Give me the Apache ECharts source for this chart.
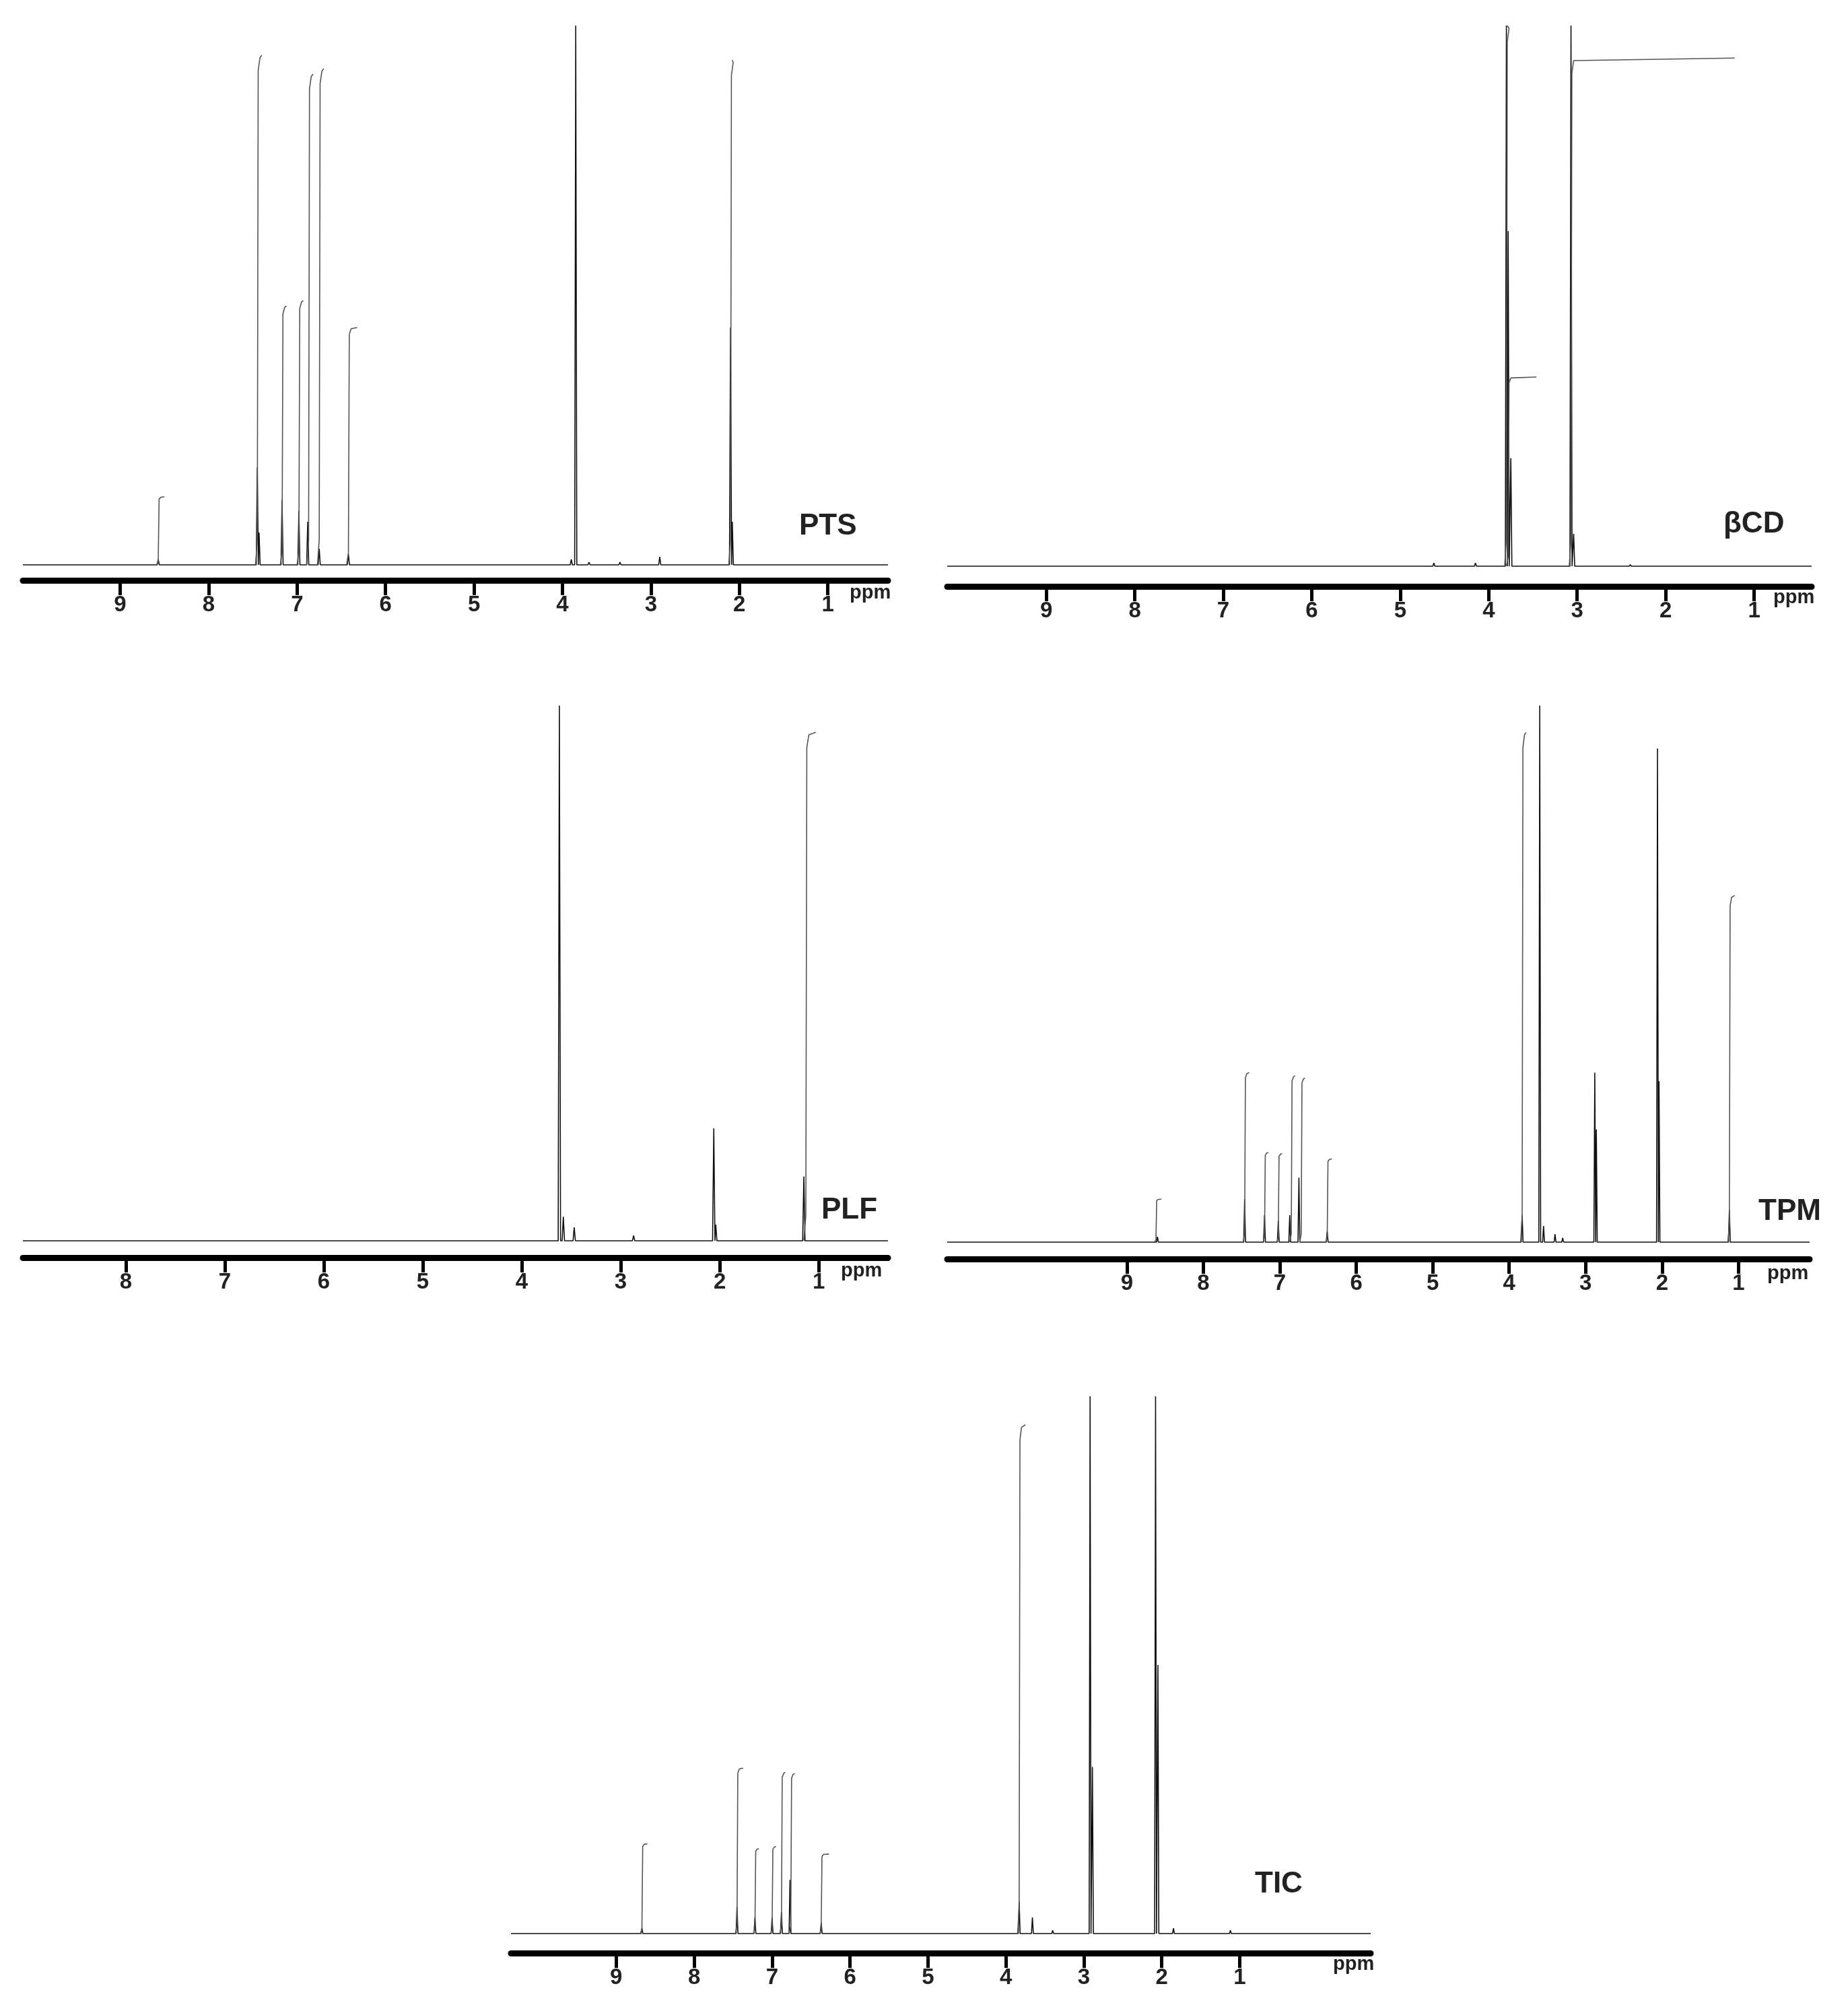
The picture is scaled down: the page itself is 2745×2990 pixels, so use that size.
<!DOCTYPE html>
<html><head><meta charset="utf-8">
<script src="https://cdn.jsdelivr.net/npm/echarts@6/dist/echarts.min.js"></script>
<style>html,body{margin:0;background:#fff}#c{width:2745px;height:2990px}</style>
</head><body><div id="c"></div>
<script>
// sample names
let names = ['PTS', 'βCD', 'PLF', 'TPM', 'TIC'];
// tick labels per panel (ppm)
let ticks = [[1,2,3,4,5,6,7,8,9],[1,2,3,4,5,6,7,8,9],[1,2,3,4,5,6,7,8],[1,2,3,4,5,6,7,8,9],[1,2,3,4,5,6,7,8,9]];

// black peaks: [ppm, height %]
let pts_peaks = [[8.57,1],[7.45,18],[7.43,6],[7.17,12],[6.98,10],[6.88,8],[6.75,3],[6.42,2],[3.9,1],[3.85,100],[3.7,0.5],[3.35,0.5],[2.9,1.5],[2.1,44],[2.08,8]];
let bcd_peaks = [[4.62,0.6],[4.15,0.6],[3.8,100],[3.78,62],[3.75,20],[3.07,100],[3.04,6],[2.4,0.3]];
let plf_peaks = [[3.62,100],[3.58,4.5],[3.47,2.5],[2.87,1],[2.06,21],[2.04,3],[1.15,12]];
let tpm_peaks = [[8.6,1],[7.46,8],[7.2,5],[7.02,4],[6.87,5],[6.75,12],[6.38,2],[3.83,5],[3.6,100],[3.55,3],[3.4,1.5],[3.3,0.8],[2.88,31.6],[2.86,21],[2.06,92],[2.04,30],[1.12,6]];
let tic_peaks = [[8.67,1],[7.45,5],[7.22,3],[7.0,3],[6.88,4],[6.77,10],[6.37,2],[3.83,6],[3.66,3],[3.4,0.6],[2.92,100],[2.89,31],[2.08,100],[2.05,50],[1.85,1],[1.12,0.6]];

// integral curves: [start ppm, end ppm, height %]
let pts_int = [[8.57,8.5,12.6],[7.45,7.4,94.5],[7.17,7.12,48],[6.98,6.93,49],[6.87,6.82,91],[6.75,6.7,92],[6.42,6.32,44],[2.1,2.08,93.6]];
let bcd_int = [[3.78,3.46,35],[3.07,1.22,94],[3.8,3.79,100]];
let plf_int = [[1.13,1.03,95]];
let tpm_int = [[8.62,8.55,8],[7.46,7.4,31.6],[7.2,7.15,16.7],[7.02,6.97,16.5],[6.85,6.8,31],[6.72,6.67,30.6],[6.38,6.32,15.5],[3.83,3.78,95],[1.12,1.05,64.6]];
let tic_int = [[8.67,8.6,16.7],[7.45,7.37,30.8],[7.22,7.17,15.8],[7.0,6.95,16.2],[6.88,6.83,30],[6.76,6.71,29.8],[6.37,6.27,14.8],[3.83,3.75,94.7]];

let peaks = [pts_peaks, bcd_peaks, plf_peaks, tpm_peaks, tic_peaks];
let ints = [pts_int, bcd_int, plf_int, tpm_int, tic_int];

// layout: T top, B axis, Y0 baseline, L, R, ppm range, label pos, ppm label pos
let panels = [
  {T:38, B:862, Y0:839, L:34, R:1319, xmin:0.32, xmax:10.1, lab:[1187,760], ppm:[1262,866]},
  {T:38, B:871, Y0:841, L:1407, R:2691, xmin:0.35, xmax:10.12, lab:[2560,757], ppm:[2634,873]},
  {T:1048, B:1868, Y0:1843, L:34, R:1319, xmin:0.3, xmax:9.04, lab:[1220,1776], ppm:[1249,1873]},
  {T:1048, B:1870, Y0:1845, L:1407, R:2688, xmin:0.07, xmax:11.35, lab:[2612,1778], ppm:[2625,1877]},
  {T:2074, B:2901, Y0:2872, L:759, R:2036, xmin:-0.68, xmax:10.35, lab:[1864,2777], ppm:[1980,2903]}
];

function specData(list, p) {
  let pts = [[p.xmax, 0]];
  let s = list.slice().sort(function(a,b){return b[0]-a[0];});
  for (let i = 0; i < s.length; i++) {
    pts.push([s[i][0]+0.012, 0], [s[i][0], s[i][1]], [s[i][0]-0.012, 0]);
  }
  pts.push([p.xmin, 0]);
  return pts;
}
function intData(it) {
  let out = [];
  for (let i = 0; i < it.length; i++) {
    let a = it[i][0], b = it[i][1], h = it[i][2];
    out.push([a+0.02, 0], [a, h*0.05], [a-0.01, h*0.97], [a-0.03, h*0.995], [b, h], '-');
  }
  return out;
}

let myChart = echarts.init(document.getElementById('c'), null, {renderer: 'canvas'});
let grid = [], xAxis = [], yAxis = [], series = [], graphic = [];
for (let i = 0; i < panels.length; i++) {
  let p = panels[i];
  grid.push({left: p.L, top: p.T, width: p.R - p.L, height: p.B - p.T});
  xAxis.push({
    type: 'value', gridIndex: i, inverse: true, min: p.xmin, max: p.xmax,
    axisLine: {show: true, onZero: false, lineStyle: {color: '#000', width: 9}},
    axisTick: {show: true, length: 22, lineStyle: {color: '#000', width: 5}, customValues: ticks[i]},
    axisLabel: {customValues: ticks[i], color: '#222', fontSize: 33, fontWeight: 'bold', fontFamily: 'Liberation Sans', margin: 20},
    splitLine: {show: false}
  });
  yAxis.push({
    type: 'value', gridIndex: i, min: -(p.B - p.Y0) / (p.Y0 - p.T) * 100, max: 100,
    show: false, splitLine: {show: false}
  });
  series.push({
    type: 'line', xAxisIndex: i, yAxisIndex: i, data: specData(peaks[i], p),
    symbol: 'none', lineStyle: {color: '#111', width: 1.6}, silent: true, clip: true
  });
  series.push({
    type: 'line', xAxisIndex: i, yAxisIndex: i, data: intData(ints[i]),
    symbol: 'none', connectNulls: false, lineStyle: {color: '#555', width: 1.6}, silent: true, clip: true
  });
  graphic.push({type: 'text', left: p.lab[0], top: p.lab[1],
    style: {text: names[i], fill: '#222', font: 'bold 44px "Liberation Sans"'}});
  graphic.push({type: 'text', left: p.ppm[0], top: p.ppm[1],
    style: {text: 'ppm', fill: '#222', font: 'bold 29px "Liberation Sans"'}});
}

myChart.setOption({animation: false, backgroundColor: '#fff', grid: grid, xAxis: xAxis, yAxis: yAxis, series: series, graphic: graphic});
</script>
</body></html>
